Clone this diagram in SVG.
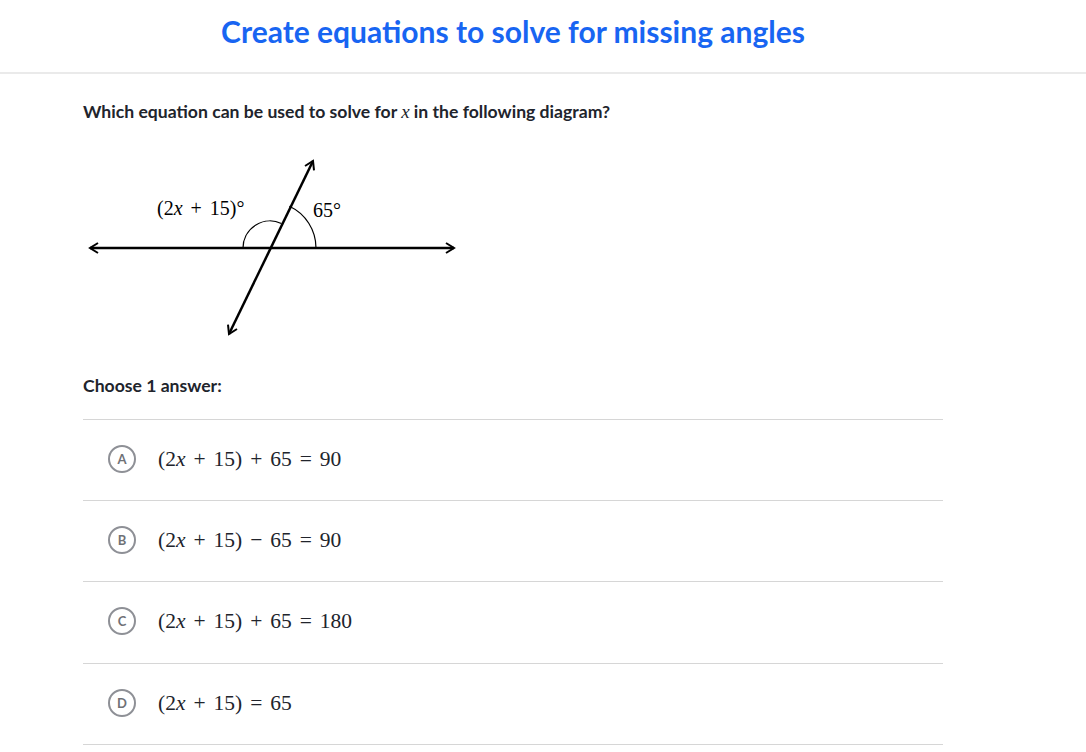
<svg xmlns="http://www.w3.org/2000/svg" width="1086" height="752" viewBox="0 0 1086 752">
<defs>
<style>
.title{font-family:Lato,"Open Sans",sans-serif;font-weight:700;font-size:30px;fill:#1865f2}
.q{font-family:Lato,"Open Sans",sans-serif;font-weight:700;font-size:17.6px;fill:#21242c}
.m{font-family:"Liberation Serif","DejaVu Serif",serif;font-size:21.5px;fill:#21242c;word-spacing:2.6px}
.mi{font-style:italic}
.lbl{font-family:"Liberation Serif","DejaVu Serif",serif;font-size:20px;fill:#000;word-spacing:3px}
.sep{stroke:#d6d6d6;stroke-width:1.2}
.ln{stroke:#000;stroke-width:2.5;fill:none}
.arc{stroke:#000;stroke-width:1.2;fill:none}
.circ{fill:#fff;stroke:#8e9096;stroke-width:2}
.let{font-family:Lato,"Open Sans",sans-serif;font-weight:700;font-size:13px;fill:#6f7176;text-anchor:middle}
</style>
<marker id="ah" viewBox="0 0 12 12" refX="10" refY="6" markerWidth="12" markerHeight="12" markerUnits="userSpaceOnUse" orient="auto-start-reverse">
<path d="M2,1 L10,6 L2,11" fill="none" stroke="#000" stroke-width="2"/>
</marker>
</defs>
<rect width="1086" height="752" fill="#fff"/>
<text class="title" x="513" y="43" text-anchor="middle">Create equations to solve for missing angles</text>
<line class="sep" x1="0" y1="73" x2="1086" y2="73"/>
<text class="q" x="83" y="118">Which equation can be used to solve for <tspan class="mi" font-family="Liberation Serif,serif" font-weight="400" font-size="19">x</tspan> in the following diagram?</text>
<g id="figure">
<g id="connectors">
<line class="ln" x1="90" y1="248" x2="454" y2="248" marker-start="url(#ah)" marker-end="url(#ah)"/>
<line class="ln" x1="229" y1="334" x2="313" y2="161" marker-start="url(#ah)" marker-end="url(#ah)"/>
</g>
<path class="arc" d="M316,248 A46,46 0 0 0 289.4,206.3"/>
<path class="arc" d="M243,248 A27,27 0 0 1 281.4,223.5"/>
<text class="lbl" x="157" y="215">(2<tspan class="mi">x</tspan> + 15)°</text>
<text class="lbl" x="313" y="217">65°</text>
</g>
<text class="q" x="83" y="392">Choose 1 answer:</text>
<g id="lines">
<line class="sep" x1="83" y1="419.5" x2="943" y2="419.5"/>
<line class="sep" x1="83" y1="500.5" x2="943" y2="500.5"/>
<line class="sep" x1="83" y1="581.5" x2="943" y2="581.5"/>
<line class="sep" x1="83" y1="663.5" x2="943" y2="663.5"/>
<line class="sep" x1="83" y1="744.5" x2="943" y2="744.5"/>
</g>
<g id="optA">
<circle class="circ" cx="122" cy="459" r="13"/>
<text class="let" x="122" y="463.5">A</text>
<text class="m" x="158" y="466">(2<tspan class="mi">x</tspan> + 15) + 65 = 90</text>
</g>
<g id="optB">
<circle class="circ" cx="122" cy="540" r="13"/>
<text class="let" x="122" y="544.5">B</text>
<text class="m" x="158" y="547">(2<tspan class="mi">x</tspan> + 15) − 65 = 90</text>
</g>
<g id="optC">
<circle class="circ" cx="122" cy="621" r="13"/>
<text class="let" x="122" y="625.5">C</text>
<text class="m" x="158" y="628">(2<tspan class="mi">x</tspan> + 15) + 65 = 180</text>
</g>
<g id="optD">
<circle class="circ" cx="122" cy="703" r="13"/>
<text class="let" x="122" y="707.5">D</text>
<text class="m" x="158" y="710">(2<tspan class="mi">x</tspan> + 15) = 65</text>
</g>
</svg>
